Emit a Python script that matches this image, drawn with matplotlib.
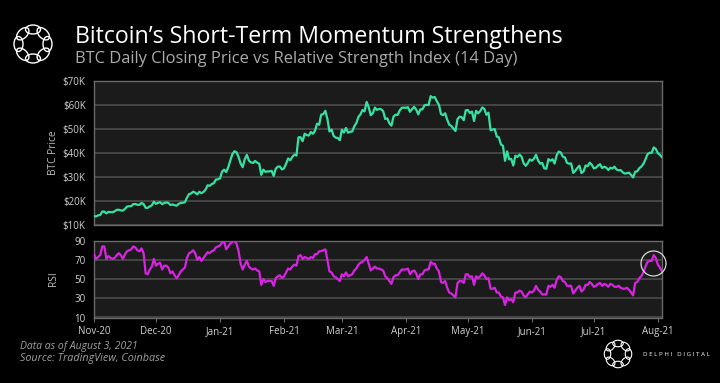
import matplotlib
matplotlib.use('Agg')
import matplotlib.pyplot as plt
import pandas as pd
import numpy as np
from matplotlib.patches import Circle, Ellipse

# ---------------- data ----------------
dates = pd.date_range('2020-11-01', '2021-08-03', freq='D')

btc_close = [
    # Nov 2020
    13737, 13550, 14030, 14150, 15590, 15580, 14830, 15480, 15330, 15310,
    15700, 16290, 16330, 16070, 15960, 16730, 17660, 17800, 17820, 18680,
    18710, 18420, 18370, 19160, 18730, 17150, 17140, 17720, 18180, 19700,
    # Dec 2020
    18790, 19220, 19450, 18690, 19160, 19380, 19180, 18320, 18550, 18250,
    18030, 18800, 19170, 19270, 19440, 21350, 22840, 23110, 23860, 23480,
    22720, 23820, 23240, 23730, 24710, 26490, 26280, 27040, 27370, 28880, 28990,
    # Jan 2021
    29390, 32200, 33000, 32030, 34030, 36830, 39460, 40670, 40240, 38240,
    35550, 34050, 37390, 39160, 36770, 36010, 35820, 36630, 35910, 35490,
    30850, 33010, 32100, 32290, 32270, 32520, 30430, 33420, 34270, 34320, 33110,
    # Feb 2021
    33540, 35510, 37670, 36910, 38290, 39260, 38870, 46450, 46510, 44840,
    47970, 47400, 47190, 48680, 47940, 49200, 52140, 51680, 55890, 56080,
    57490, 54130, 48900, 49680, 47080, 46340, 46180, 45240,
    # Mar 2021
    49630, 48440, 50370, 48370, 48760, 48880, 51020, 52350, 54880, 56000,
    57800, 57230, 61180, 59000, 55640, 56430, 58820, 57880, 58250, 58130,
    57350, 54080, 54340, 52300, 51300, 55070, 55840, 55780, 57630, 58730, 58800,
    # Apr 2021
    58730, 58970, 57060, 58200, 59130, 57990, 56000, 58080, 58100, 59770,
    59980, 59860, 63580, 62960, 63220, 61400, 60010, 56150, 55660, 56470,
    53800, 51700, 51190, 50110, 49070, 54020, 55040, 54840, 53560, 57700,
    # May 2021
    57800, 56580, 57170, 53240, 57480, 56440, 57350, 58890, 58240, 55840,
    56700, 49400, 49680, 49900, 46760, 46450, 43540, 42900, 36700, 40600,
    37300, 37500, 34700, 38800, 38300, 39300, 38400, 35700, 34600, 35700, 37300,
    # Jun 2021
    36700, 37570, 39200, 36840, 35520, 35800, 33560, 33380, 37390, 36690,
    37340, 35550, 39020, 40530, 40160, 38350, 38090, 35820, 35480, 35600,
    31680, 32510, 33690, 34660, 31590, 32280, 34700, 34500, 35910, 35040,
    # Jul 2021
    33540, 33820, 34700, 35290, 33690, 34230, 33860, 32880, 33810, 33510,
    34260, 33090, 32730, 32820, 31870, 31390, 31530, 31780, 30840, 29790,
    32140, 32290, 33640, 34270, 35400, 37300, 39460, 40030, 40010, 42240, 41630,
    # Aug 2021
    39860, 39150, 38200,
]

rsi_14 = [
    # Nov 2020
    76, 71, 73, 75, 84, 84, 71, 74, 72, 71,
    72, 75, 77, 75, 71, 76, 79, 80, 81, 84,
    83, 80, 79, 82, 77, 56, 55, 60, 63, 71,
    # Dec 2020
    64, 66, 67, 60, 64, 64, 62, 56, 58, 54,
    51, 54, 58, 60, 62, 72, 77, 78, 80, 77,
    70, 73, 69, 72, 75, 78, 77, 79, 80, 83, 84,
    # Jan 2021
    85, 88, 89, 81, 84, 87, 89, 90, 87, 79,
    66, 60, 65, 69, 63, 61, 60, 61, 59, 58,
    44, 50, 47, 48, 48, 48, 43, 51, 53, 54, 51,
    # Feb 2021
    53, 57, 61, 60, 63, 65, 64, 74, 75, 71,
    73, 72, 71, 73, 72, 76, 76, 79, 79, 80,
    81, 70, 58, 57, 53, 52, 50, 48,
    # Mar 2021
    55, 53, 57, 53, 54, 55, 59, 61, 65, 67,
    68, 70, 73, 66, 59, 61, 63, 61, 61, 60,
    59, 53, 51, 48, 45, 52, 54, 54, 57, 60, 60,
    # Apr 2021
    60, 61, 55, 58, 59, 56, 50, 55, 55, 59,
    60, 60, 68, 66, 66, 61, 58, 47, 46, 48,
    41, 36, 35, 33, 31, 46, 48, 48, 46, 55,
    # May 2021
    55, 52, 53, 44, 53, 51, 53, 56, 54, 50,
    51, 40, 40, 41, 36, 36, 32, 31, 23, 31,
    28, 29, 26, 36, 36, 38, 37, 33, 31, 34, 37,
    # Jun 2021
    36, 38, 43, 39, 37, 34, 34, 34, 43, 42,
    44, 41, 49, 53, 52, 48, 47, 43, 43, 43,
    35, 38, 41, 43, 37, 39, 44, 44, 47, 45,
    # Jul 2021
    42, 43, 45, 46, 43, 45, 44, 42, 45, 44,
    42, 42, 43, 41, 40, 40, 41, 39, 36, 33,
    46, 47, 51, 53, 57, 63, 68, 69, 69, 75, 72,
    # Aug 2021
    65, 62, 58,
]

xtick_dates = pd.date_range('2020-11-01', '2021-08-01', freq='MS')
xtick_labels = ['Nov-20', 'Dec-20', 'Jan-21', 'Feb-21', 'Mar-21',
                'Apr-21', 'May-21', 'Jun-21', 'Jul-21', 'Aug-21']
price_ticks = [10000, 20000, 30000, 40000, 50000, 60000, 70000]
price_labels = ['$10K', '$20K', '$30K', '$40K', '$50K', '$60K', '$70K']
rsi_ticks = [10, 30, 50, 70, 90]
rsi_labels = ['10', '30', '50', '70', '90']

title = 'Bitcoin\u2019s Short-Term Momentum Strengthens'
subtitle = 'BTC Daily Closing Price vs Relative Strength Index (14 Day)'
note1 = 'Data as of August 3, 2021'
note2 = 'Source: TradingView, Coinbase'
brand = 'D E L P H I   D I G I T A L'

# ---------------- style ----------------
FONT = 'Open Sans'
plt.rcParams['font.family'] = [FONT, 'DejaVu Sans']
BG = '#000000'
PANEL = '#1b1b1b'
GRID = '#505050'
SPINE = '#6a6a6a'
TICK = '#d0d0d0'
GREEN = '#34e3a2'
MAGENTA = '#d923e3'

W, H = 720, 383
fig = plt.figure(figsize=(W / 100, H / 100), dpi=100, facecolor=BG)

L, R = 94, 662
ax1 = fig.add_axes([L / W, 1 - 225 / H, (R - L) / W, (225 - 80.7) / H])
ax2 = fig.add_axes([L / W, 1 - 317.5 / H, (R - L) / W, (317.5 - 240.7) / H])

for ax in (ax1, ax2):
    ax.set_facecolor(PANEL)
    for s in ax.spines.values():
        s.set_color(SPINE)
        s.set_linewidth(1.0)
    ax.grid(axis='y', color=GRID, linewidth=1.1)
    ax.set_axisbelow(True)
    ax.set_xlim(dates[0], dates[-1])
    ax.tick_params(axis='y', length=0, pad=6, labelsize=7, labelcolor=TICK)

ax1.plot(dates, btc_close, color=GREEN, linewidth=1.6, zorder=3)
ax1.set_ylim(10000, 70000)
ax1.set_yticks(price_ticks)
ax1.set_yticklabels(price_labels)
ax1.set_xticks([])
ax1.set_ylabel('BTC Price', color='#bdbdbd', fontsize=7.3)

ax2.plot(dates, rsi_14, color=MAGENTA, linewidth=1.6, zorder=3)
ax2.set_ylim(10, 90)
ax2.set_yticks(rsi_ticks)
ax2.set_yticklabels(rsi_labels)
ax2.set_xticks(xtick_dates)
ax2.set_xticklabels(xtick_labels)
ax2.tick_params(axis='x', length=3, width=0.8, color=SPINE, pad=3,
                labelsize=7, labelcolor=TICK)
ax2.set_ylabel('RSI', color='#bdbdbd', fontsize=7.3)

# highlight circle around the latest RSI peak
ax2.plot([pd.Timestamp('2021-07-29 18:00')], [67], marker='o', markersize=18,
         markerfacecolor='none', markeredgecolor='#d8d8d8', markeredgewidth=0.9,
         zorder=4, clip_on=False)

# y label placement (right edge of rotated label ~ x=59px)
ax1.yaxis.set_label_coords((59 - L) / (R - L), 0.5)
ax2.yaxis.set_label_coords((59 - L) / (R - L), 0.5)

# ---------------- header / footer texts ----------------
def fit_text(x, y, s, width_px, size, **kw):
    t = fig.text(x / W, 1 - y / H, s, fontsize=size, va='center', ha='left', **kw)
    fig.canvas.draw()
    ext = t.get_window_extent()
    t.set_fontsize(size * width_px / ext.width)
    return t

fit_text(75, 37, title, 487, 15, color='white')
fit_text(75, 59, subtitle, 445, 10, color='#ababab')
fit_text(20, 347, note1, 118, 6, color='#a0a0a0', style='italic')
fit_text(20, 358, note2, 145, 6, color='#a0a0a0', style='italic')
fit_text(643, 354, brand, 67, 5, color='white')

# ---------------- logos (overlay in pixel coords) ----------------
ov = fig.add_axes([0, 0, 1, 1], zorder=10)
ov.set_xlim(0, W)
ov.set_ylim(H, 0)
ov.axis('off')
ov.patch.set_alpha(0)

def logo(cx, cy, ring, w, h, lw):
    for k in range(8):
        a = np.pi / 2 + k * 2 * np.pi / 8
        ov.add_patch(Ellipse((cx + ring * np.cos(a), cy + ring * np.sin(a)),
                             w, h, angle=np.degrees(a) + 90,
                             fill=False, edgecolor='white', linewidth=lw))

logo(33, 44, 14.5, 15, 9, 1.0)
logo(618, 354, 10.5, 10.5, 6.5, 0.8)

fig.savefig('out.png', dpi=100, facecolor=BG)
